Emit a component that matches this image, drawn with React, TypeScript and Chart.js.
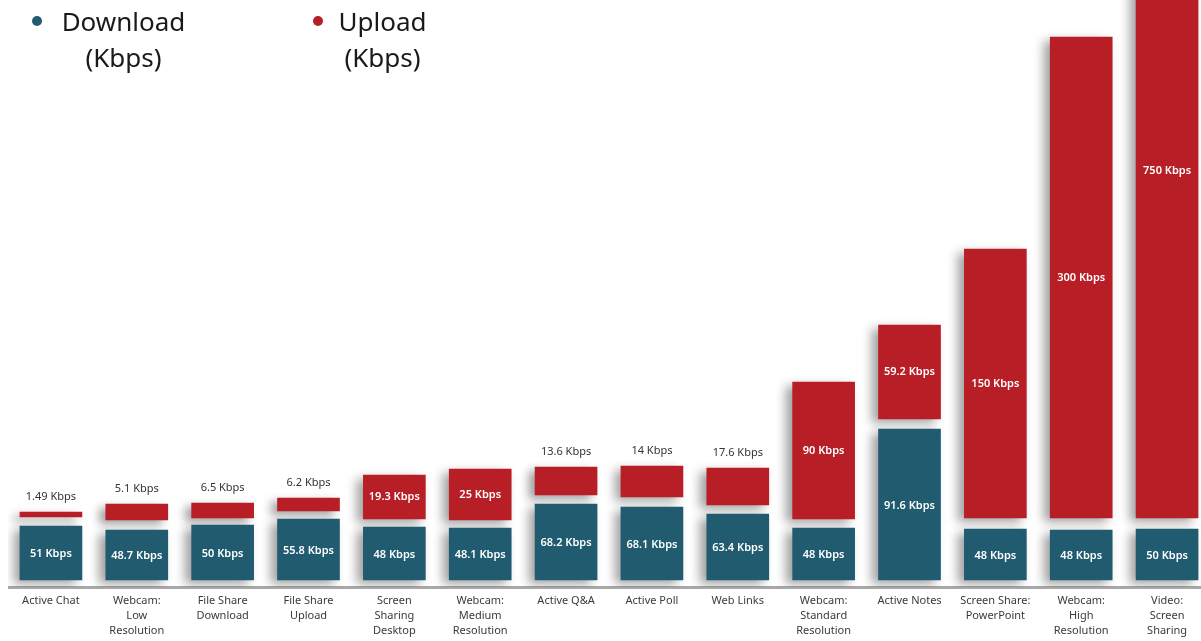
import React, { useEffect, useRef } from "react";
import { Chart, registerables } from "chart.js";

Chart.register(...registerables);

const categories: (string | string[])[] = [
  "Active Chat",
  ["Webcam:", "Low", "Resolution"],
  ["File Share", "Download"],
  ["File Share", "Upload"],
  ["Screen", "Sharing", "Desktop"],
  ["Webcam:", "Medium", "Resolution"],
  "Active Q&A",
  "Active Poll",
  "Web Links",
  ["Webcam:", "Standard", "Resolution"],
  "Active Notes",
  ["Screen Share:", "PowerPoint"],
  ["Webcam:", "High", "Resolution"],
  ["Video:", "Screen", "Sharing"],
];

// Values printed on the bars (Kbps)
const downloadKbps = [51, 48.7, 50, 55.8, 48, 48.1, 68.2, 68.1, 63.4, 48, 91.6, 48, 48, 50];
const uploadKbps = [1.49, 5.1, 6.5, 6.2, 19.3, 25, 13.6, 14, 17.6, 90, 59.2, 150, 300, 750];

// Drawn bar heights as read from the infographic (not proportional to Kbps)
const downloadHeights = [54, 50, 55, 61, 53, 52, 76, 73, 66, 52, 151, 51, 50, 51];
const gapHeights = [9, 10, 7, 8, 8, 8, 9, 10, 9, 9, 10, 11, 12, 11];
const uploadHeights = [5, 16, 15, 13, 44, 51, 28, 31, 37, 137, 94, 269, 481, 694];

const DOWNLOAD_COLOR = "#215b70";
const UPLOAD_COLOR = "#b81e25";
const FONT = "'Noto Sans', sans-serif";

const shadowPlugin = {
  id: "barShadow",
  beforeDatasetDraw(chart: any, args: any) {
    const ctx = chart.ctx;
    ctx.save();
    if (args.index !== 1) {
      ctx.shadowColor = "rgba(0,0,0,0.38)";
      ctx.shadowBlur = 10;
      ctx.shadowOffsetX = -6;
      ctx.shadowOffsetY = 4;
    }
  },
  afterDatasetDraw(chart: any) {
    chart.ctx.restore();
  },
};

const labelPlugin = {
  id: "valueLabels",
  afterDatasetsDraw(chart: any) {
    const ctx = chart.ctx;
    ctx.save();
    ctx.shadowColor = "rgba(0,0,0,0)";
    ctx.textAlign = "center";
    ctx.textBaseline = "middle";
    const dl = chart.getDatasetMeta(0);
    const ul = chart.getDatasetMeta(2);
    dl.data.forEach((el: any, i: number) => {
      const { x, y, base } = el.getProps(["x", "y", "base"], true);
      ctx.fillStyle = "#ffffff";
      ctx.font = `600 11px ${FONT}`;
      ctx.fillText(`${downloadKbps[i]} Kbps`, x, (y + base) / 2 + 1);
    });
    ul.data.forEach((el: any, i: number) => {
      const { x, y, base } = el.getProps(["x", "y", "base"], true);
      const h = Math.abs(base - y);
      const text = `${uploadKbps[i]} Kbps`;
      if (h >= 40) {
        ctx.fillStyle = "#ffffff";
        ctx.font = `600 11px ${FONT}`;
        ctx.fillText(text, x, (y + base) / 2);
      } else {
        ctx.fillStyle = "#333333";
        ctx.font = `400 11px ${FONT}`;
        ctx.fillText(text, x, y - 15);
      }
    });
    ctx.restore();
  },
};

function ChartCanvas() {
  const ref = useRef<HTMLCanvasElement | null>(null);
  useEffect(() => {
    if (!ref.current) return;
    const chart = new Chart(ref.current, {
      type: "bar",
      data: {
        labels: categories as any,
        datasets: [
          {
            label: "Download (Kbps)",
            data: downloadHeights,
            backgroundColor: DOWNLOAD_COLOR,
            barThickness: 62,
            borderWidth: 0,
          },
          {
            label: "gap",
            data: gapHeights,
            backgroundColor: "rgba(255,255,255,0)",
            barThickness: 62,
            borderWidth: 0,
          },
          {
            label: "Upload (Kbps)",
            data: uploadHeights,
            backgroundColor: UPLOAD_COLOR,
            barThickness: 62,
            borderWidth: 0,
          },
        ],
      },
      options: {
        animation: false,
        responsive: true,
        maintainAspectRatio: false,
        layout: { padding: 0 },
        plugins: {
          legend: { display: false },
          tooltip: { enabled: false },
        },
        scales: {
          x: {
            stacked: true,
            grid: { display: false, drawTicks: false },
            border: { display: true, color: "#a8a8a8", width: 3 },
            ticks: {
              color: "#3a3a3a",
              font: { family: FONT, size: 11, lineHeight: 1.36 },
              padding: 6,
              maxRotation: 0,
              autoSkip: false,
            },
            afterFit: (scale: any) => {
              scale.height = 54;
            },
          },
          y: {
            stacked: true,
            display: false,
            min: -7,
            max: 580,
          },
        },
      },
      plugins: [shadowPlugin, labelPlugin],
    });
    return () => chart.destroy();
  }, []);
  return <canvas ref={ref} />;
}

export default function App() {
  const legendText: React.CSSProperties = {
    position: "absolute",
    fontFamily: FONT,
    fontSize: 26,
    lineHeight: "36px",
    color: "#1a1a1a",
    textAlign: "center",
  };
  const dot = (color: string, left: number): React.CSSProperties => ({
    position: "absolute",
    left: left - 5,
    top: 16,
    width: 10,
    height: 10,
    borderRadius: "50%",
    background: color,
  });
  return (
    <div
      style={{
        position: "fixed",
        left: 0,
        top: 0,
        width: 1201,
        height: 641,
        overflow: "hidden",
        background: "#ffffff",
      }}
    >
      <div style={{ position: "absolute", left: 8, top: 0, width: 1202, height: 641 }}>
        <ChartCanvas />
      </div>
      <div style={dot(DOWNLOAD_COLOR, 37)} />
      <div style={{ ...legendText, left: 53, top: 3, width: 141 }}>
        Download
        <br />
        (Kbps)
      </div>
      <div style={dot(UPLOAD_COLOR, 318)} />
      <div style={{ ...legendText, left: 322, top: 3, width: 121 }}>
        Upload
        <br />
        (Kbps)
      </div>
    </div>
  );
}
